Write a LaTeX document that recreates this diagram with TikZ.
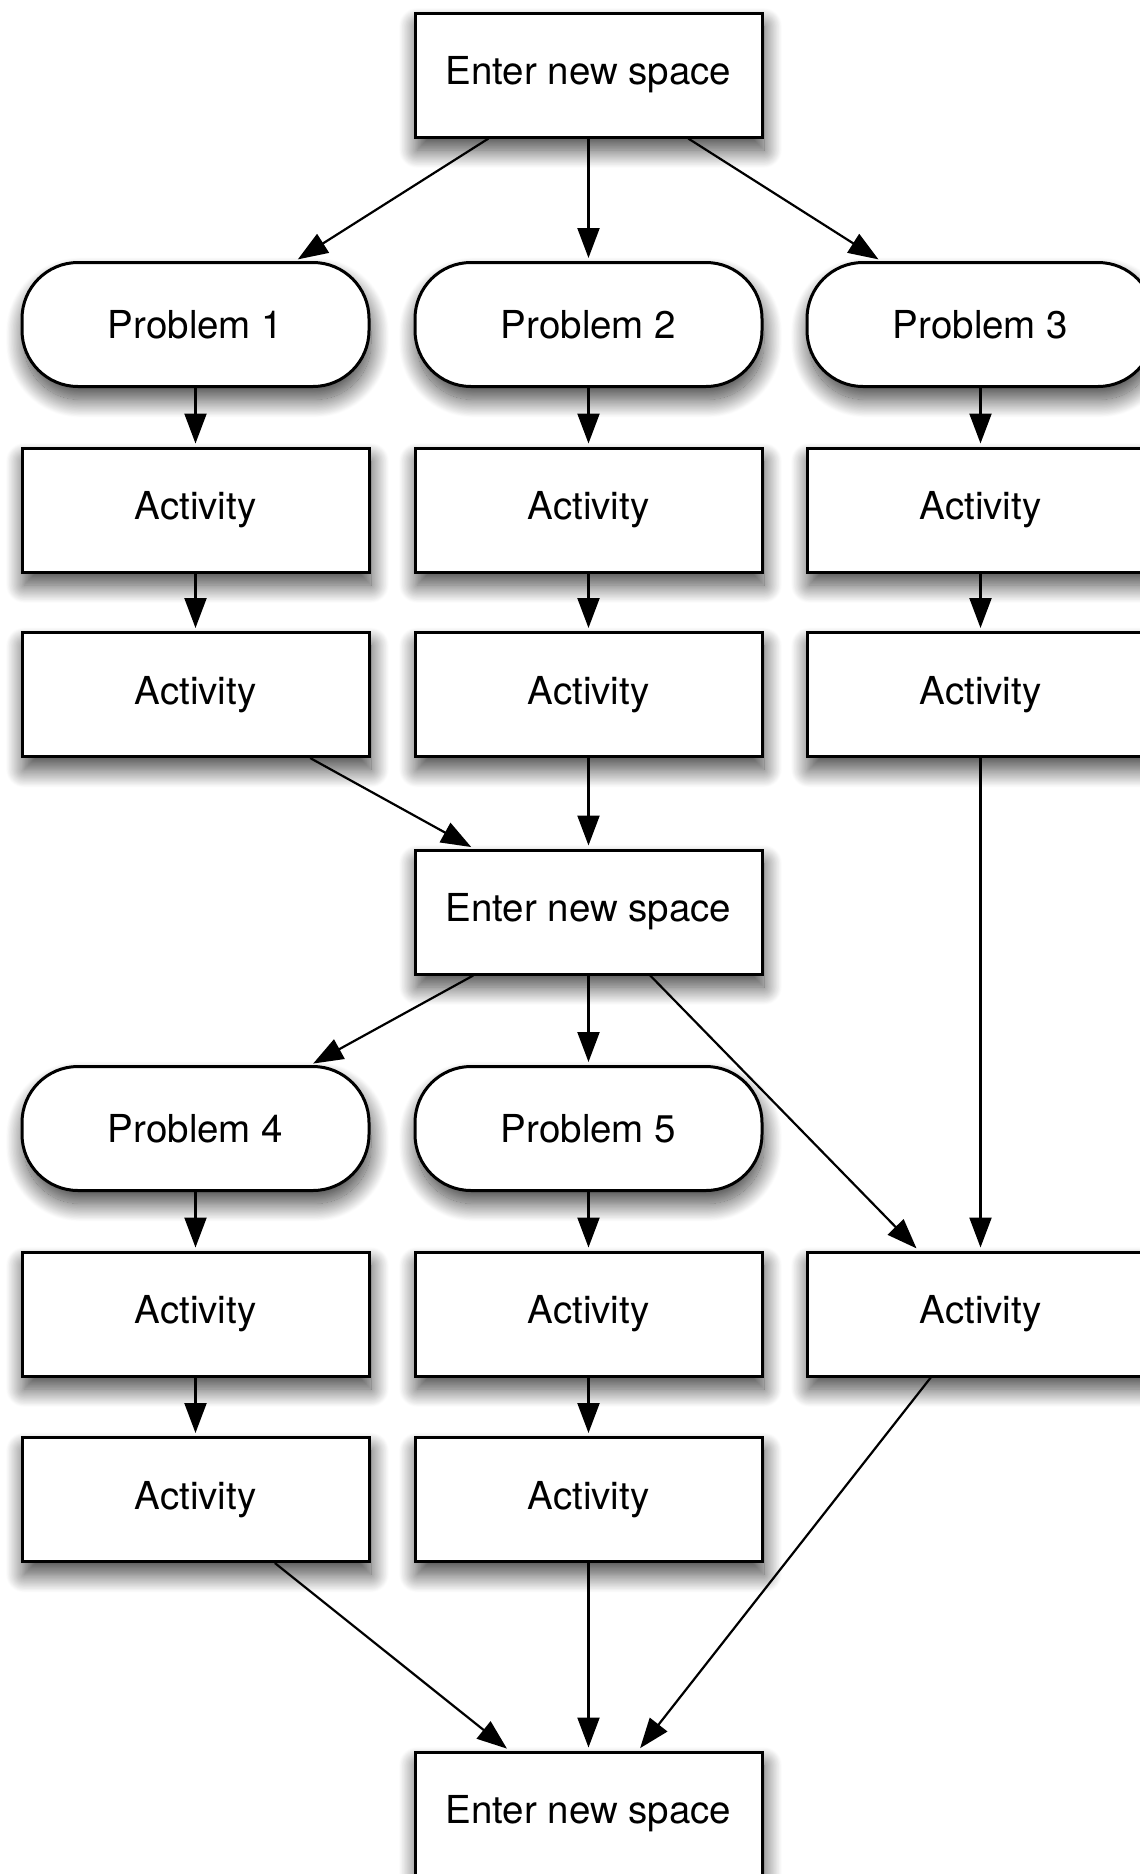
\documentclass[tikz,border=0pt]{standalone}
\usepackage{fontspec}
\setmainfont{TeX Gyre Heros}
\usetikzlibrary{arrows.meta,shadows.blur}
\begin{document}
\begin{tikzpicture}[x=1pt,y=-1pt,
  box/.style={draw=black, line width=3pt, fill=white, minimum width=347pt,
    minimum height=124pt, inner sep=0pt, font=\fontsize{38.5}{46}\selectfont,
    blur shadow={shadow xshift=2pt, shadow yshift=-13pt, shadow blur radius=18pt,
      shadow blur steps=30, shadow opacity=75}},
  prob/.style={box, rounded corners=56pt},
  conn/.style={line width=2.2pt, -{Triangle[length=30pt,width=22pt]}, shorten >=3pt}]
\path[use as bounding box] (0,0) rectangle (1140,1874);
\clip (0,0) rectangle (1140,1874);
% row 0
\node[box] (e1) at (588.5,75) {Enter new space};
% problems 1-3
\node[prob] (p1) at (195.5,324.5) {Problem 1};
\node[prob] (p2) at (588.5,324.5) {Problem 2};
\node[prob] (p3) at (980.5,324.5) {Problem 3};
% activities
\node[box] (a11) at (195.5,510) {Activity};
\node[box] (a21) at (588.5,510) {Activity};
\node[box] (a31) at (980.5,510) {Activity};
\node[box] (a12) at (195.5,694.5) {Activity};
\node[box] (a22) at (588.5,694.5) {Activity};
\node[box] (a32) at (980.5,694.5) {Activity};
% second space
\node[box] (e2) at (588.5,912) {Enter new space};
\node[prob] (p4) at (195.5,1128.5) {Problem 4};
\node[prob] (p5) at (588.5,1128.5) {Problem 5};
\node[box] (a41) at (195.5,1314) {Activity};
\node[box] (a51) at (588.5,1314) {Activity};
\node[box] (a6)  at (980.5,1314) {Activity};
\node[box] (a42) at (195.5,1499.5) {Activity};
\node[box] (a52) at (588.5,1499.5) {Activity};
% third space
\node[box] (e3) at (588.5,1814) {Enter new space};
% connectors
\draw[conn] (e1) -- (p1);
\draw[conn] (e1) -- (p2);
\draw[conn] (e1) -- (p3);
\draw[conn] (p1) -- (a11);
\draw[conn] (p2) -- (a21);
\draw[conn] (p3) -- (a31);
\draw[conn] (a11) -- (a12);
\draw[conn] (a21) -- (a22);
\draw[conn] (a31) -- (a32);
\draw[conn] (a12) -- (e2);
\draw[conn] (a22) -- (e2);
\draw[conn] (a32) -- (a6);
\draw[conn] (e2) -- (p4);
\draw[conn] (e2) -- (p5);
\draw[conn] (e2) -- (a6);
\draw[conn] (p4) -- (a41);
\draw[conn] (p5) -- (a51);
\draw[conn] (a41) -- (a42);
\draw[conn] (a51) -- (a52);
\draw[conn] (a42) -- (e3);
\draw[conn] (a52) -- (e3);
\draw[conn] (a6) -- (e3);
\end{tikzpicture}
\end{document}
